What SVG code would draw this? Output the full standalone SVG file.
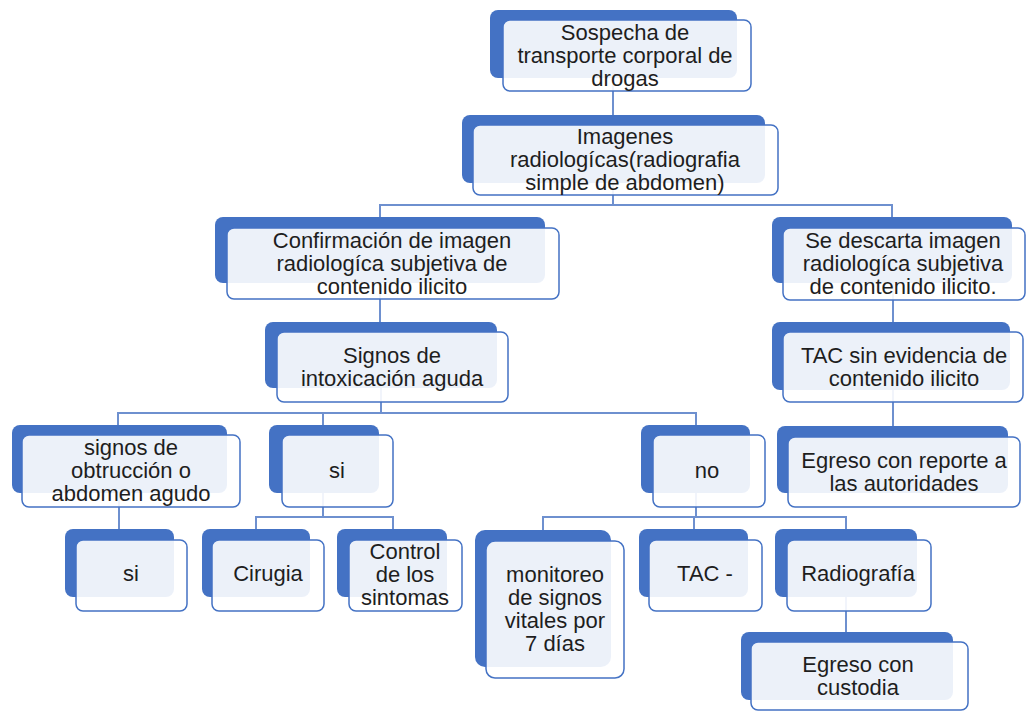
<svg xmlns="http://www.w3.org/2000/svg" width="1030" height="711" viewBox="0 0 1030 711">
<style>
.b{fill:#4472C4}
.f{fill:#fff;fill-opacity:.9;stroke:#4472C4;stroke-width:1.5}
.t{font-family:"Liberation Sans",Arial,sans-serif;font-size:22px;fill:#1e1e1e;text-anchor:middle}
.c{fill:none;stroke:#6E90CF;stroke-width:2}
</style>
<rect width="1030" height="711" fill="#fff"/>
<g id="connectors" class="c">
<path d="M613,78 V115"/>
<path d="M613,183 V205 M380,217 V205 H892 V217"/>
<path d="M380,283 V322"/>
<path d="M893,283 V322"/>
<path d="M893,390 V426"/>
<path d="M381,388 V413 M118,425 V413 H696 V425 M323,413 V425"/>
<path d="M119,493 V529"/>
<path d="M323,493 V517 M256,529 V517 H393 V529"/>
<path d="M696,493 V517 M543,530 V517 H846 V529 M694,517 V529"/>
<path d="M846,597 V632"/>
</g>
<g id="n1"><rect class="b" x="490" y="10" width="247" height="68" rx="8"/><rect class="f" x="503" y="20" width="248" height="71" rx="7"/>
<text class="t"><tspan x="625" y="39.5">Sospecha de</tspan><tspan x="625" y="62.5">transporte corporal de</tspan><tspan x="625" y="85.5">drogas</tspan></text></g>
<g id="n2"><rect class="b" x="462" y="115" width="303" height="68" rx="8"/><rect class="f" x="473" y="125" width="305" height="70" rx="7"/>
<text class="t"><tspan x="625" y="144">Imagenes</tspan><tspan x="625" y="167">radiologícas(radiografia</tspan><tspan x="625" y="190">simple de abdomen)</tspan></text></g>
<g id="n3"><rect class="b" x="215" y="217" width="330" height="66" rx="8"/><rect class="f" x="227" y="228" width="332" height="71" rx="7"/>
<text class="t"><tspan x="392" y="247.5">Confirmación de imagen</tspan><tspan x="392" y="270.5">radiologíca subjetiva de</tspan><tspan x="392" y="293.5">contenido ilicito</tspan></text></g>
<g id="n4"><rect class="b" x="265" y="322" width="232" height="66" rx="8"/><rect class="f" x="277" y="332" width="231" height="70" rx="7"/>
<text class="t"><tspan x="392" y="362.5">Signos de</tspan><tspan x="392" y="385.5">intoxicación aguda</tspan></text></g>
<g id="n5"><rect class="b" x="772" y="217" width="240" height="66" rx="8"/><rect class="f" x="783" y="228" width="242" height="72" rx="7"/>
<text class="t"><tspan x="903" y="248">Se descarta imagen</tspan><tspan x="903" y="271">radiologíca subjetiva</tspan><tspan x="903" y="294">de contenido ilicito.</tspan></text></g>
<g id="n6"><rect class="b" x="772" y="322" width="238" height="68" rx="8"/><rect class="f" x="783" y="332" width="240" height="70" rx="7"/>
<text class="t"><tspan x="904" y="362.5">TAC sin evidencia de</tspan><tspan x="904" y="385.5">contenido ilicito</tspan></text></g>
<g id="n7"><rect class="b" x="777" y="426" width="231" height="67" rx="8"/><rect class="f" x="788" y="437" width="232" height="70" rx="7"/>
<text class="t"><tspan x="904" y="467.5">Egreso con reporte a</tspan><tspan x="904" y="490.5">las autoridades</tspan></text></g>
<g id="n8"><rect class="b" x="12" y="425" width="215" height="68" rx="8"/><rect class="f" x="22" y="435" width="218" height="72" rx="7"/>
<text class="t"><tspan x="131" y="455">signos de</tspan><tspan x="131" y="478">obtrucción o</tspan><tspan x="131" y="501">abdomen agudo</tspan></text></g>
<g id="n9"><rect class="b" x="269" y="425" width="110" height="68" rx="8"/><rect class="f" x="282" y="435" width="111" height="72" rx="7"/>
<text class="t" x="337" y="478">si</text></g>
<g id="n10"><rect class="b" x="641" y="425" width="109" height="68" rx="8"/><rect class="f" x="653" y="435" width="112" height="72" rx="7"/>
<text class="t" x="707" y="478">no</text></g>
<g id="n11"><rect class="b" x="65" y="529" width="109" height="68" rx="8"/><rect class="f" x="76" y="540" width="111" height="71" rx="7"/>
<text class="t" x="131" y="581">si</text></g>
<g id="n12"><rect class="b" x="202" y="529" width="108" height="68" rx="8"/><rect class="f" x="212" y="540" width="112" height="71" rx="7"/>
<text class="t" x="268" y="581">Cirugia</text></g>
<g id="n13"><rect class="b" x="337" y="529" width="110" height="68" rx="8"/><rect class="f" x="349" y="540" width="113" height="71" rx="7"/>
<text class="t"><tspan x="405" y="559">Control</tspan><tspan x="405" y="582">de los</tspan><tspan x="405" y="605">sintomas</tspan></text></g>
<g id="n14"><rect class="b" x="475" y="530" width="136" height="137" rx="10"/><rect class="f" x="486" y="541" width="138" height="137" rx="9"/>
<text class="t"><tspan x="555" y="582">monitoreo</tspan><tspan x="555" y="605">de signos</tspan><tspan x="555" y="628">vitales por</tspan><tspan x="555" y="651">7 días</tspan></text></g>
<g id="n15"><rect class="b" x="639" y="529" width="109" height="68" rx="8"/><rect class="f" x="649" y="540" width="113" height="71" rx="7"/>
<text class="t" x="705" y="581">TAC -</text></g>
<g id="n16"><rect class="b" x="775" y="529" width="142" height="68" rx="8"/><rect class="f" x="787" y="540" width="144" height="71" rx="7"/>
<text class="t" x="858" y="581">Radiografía</text></g>
<g id="n17"><rect class="b" x="741" y="632" width="212" height="68" rx="8"/><rect class="f" x="751" y="642" width="217" height="68" rx="7"/>
<text class="t"><tspan x="858" y="672">Egreso con</tspan><tspan x="858" y="695">custodia</tspan></text></g>
</svg>
